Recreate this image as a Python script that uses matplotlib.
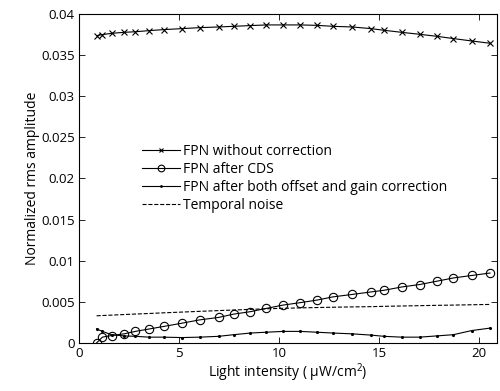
import numpy as np
import matplotlib
matplotlib.use('Agg')
import matplotlib.pyplot as plt

plt.rcParams['font.family'] = ['Open Sans', 'DejaVu Sans']
plt.rcParams['mathtext.fontset'] = 'custom'
plt.rcParams['mathtext.rm'] = 'Open Sans'
plt.rcParams['mathtext.it'] = 'Open Sans'

# light intensity (uW/cm^2)
x = [0.88, 1.17, 1.63, 2.25, 2.82, 3.52, 4.23, 5.15, 6.03, 6.98, 7.73, 8.57, 9.37,
     10.2, 11.07, 11.88, 12.7, 13.67, 14.6, 15.25, 16.13, 17.03, 17.88, 18.72, 19.63, 20.55]

fpn_raw = [0.03738, 0.0375, 0.03766, 0.03778, 0.03785, 0.03799, 0.03811, 0.03823, 0.03835,
           0.03843, 0.03851, 0.0386, 0.03868, 0.03868, 0.03868, 0.03863, 0.03851, 0.03843,
           0.03823, 0.03803, 0.03778, 0.03754, 0.0373, 0.03702, 0.03673, 0.03645]
fpn_cds = [0.0, 0.0007, 0.0009, 0.0011, 0.0014, 0.0017, 0.002, 0.0024, 0.0028, 0.0031,
           0.0035, 0.0038, 0.0042, 0.0046, 0.0049, 0.0052, 0.0056, 0.0059, 0.0062, 0.0064,
           0.0068, 0.0071, 0.0075, 0.0079, 0.0082, 0.0085]
fpn_both = [0.0017, 0.0014, 0.001, 0.00085, 0.0008, 0.0007, 0.0007, 0.00065, 0.0007, 0.0008,
            0.001, 0.0012, 0.0013, 0.0014, 0.0014, 0.0013, 0.0012, 0.0011, 0.00095, 0.0008,
            0.0007, 0.0007, 0.00085, 0.001, 0.0015, 0.0018]
temporal = [0.0033, 0.00333, 0.00338, 0.00345, 0.00351, 0.00358, 0.00366, 0.00375, 0.00384,
            0.00393, 0.004, 0.00408, 0.00415, 0.00421, 0.00426, 0.0043, 0.00434, 0.00438,
            0.00441, 0.00445, 0.00449, 0.00453, 0.00457, 0.0046, 0.00464, 0.00468]

fig = plt.figure(figsize=(5, 3.91), dpi=100)
ax = fig.add_axes([0.158, 0.123, 0.836, 0.841])

ax.plot(x, fpn_raw, 'k-', marker='x', ms=4, mew=0.8, lw=0.8, label='FPN without correction')
ax.plot(x, fpn_cds, 'k-', marker='o', ms=6, mfc='none', mew=0.8, lw=0.8, label='FPN after CDS')
ax.plot(x, fpn_both, 'k-', marker='.', ms=2.5, lw=0.8, label='FPN after both offset and gain correction')
ax.plot(x, temporal, 'k--', lw=0.8, label='Temporal noise')

ax.set_xlim(0, 20.9)
ax.set_ylim(0, 0.04)
ax.set_xticks([0, 5, 10, 15, 20])
yt = [0, 0.005, 0.01, 0.015, 0.02, 0.025, 0.03, 0.035, 0.04]
ax.set_yticks(yt)
ax.set_yticklabels(['0', '0.005', '0.01', '0.015', '0.02', '0.025', '0.03', '0.035', '0.04'])
ax.tick_params(direction='in', top=True, right=True, labelsize=9.5, length=4, width=0.6, pad=3)
for s in ax.spines.values():
    s.set_linewidth(0.8)

ax.set_xlabel(r'Light intensity ( $\mu$W/cm$^2$)', fontsize=10, labelpad=1)
ax.set_ylabel('Normalized rms amplitude', fontsize=10, labelpad=1)

leg = ax.legend(loc='upper left', bbox_to_anchor=(0.135, 0.626), frameon=False, fontsize=10,
                handlelength=2.7, handletextpad=0.25, labelspacing=0.22, borderpad=0,
                numpoints=1, markerscale=0.8)

fig.savefig('out.png', dpi=100)
